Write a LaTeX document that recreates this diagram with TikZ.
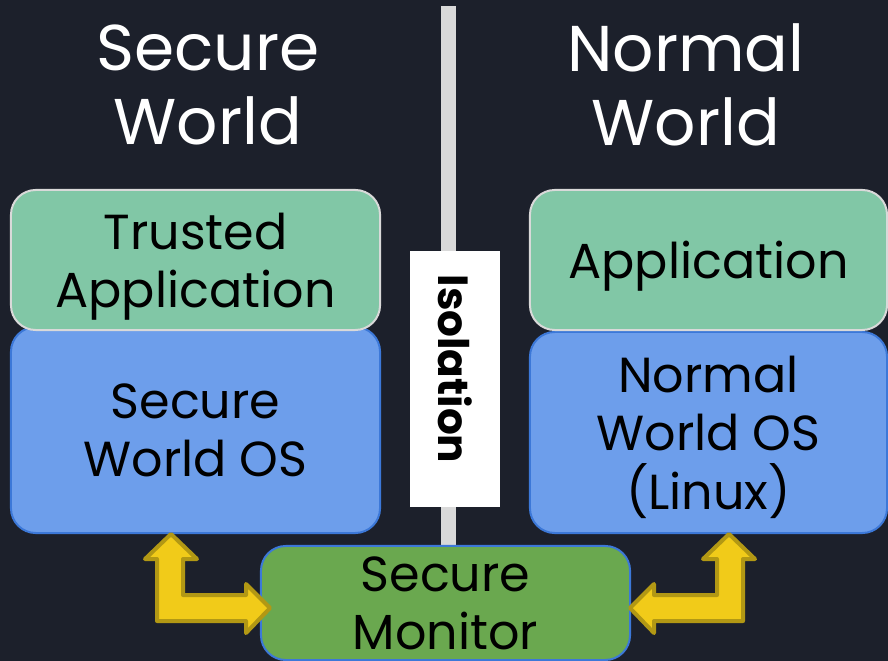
\documentclass[tikz,border=0pt]{standalone}
\usepackage{fontspec}
\setmainfont{Poppins}
\usetikzlibrary{calc}
\definecolor{bgdark}{RGB}{28,32,43}
\definecolor{bargray}{RGB}{217,217,217}
\definecolor{tagreen}{RGB}{129,199,166}
\definecolor{osblue}{RGB}{109,158,235}
\definecolor{edgeblue}{RGB}{60,120,216}
\definecolor{mongreen}{RGB}{106,168,79}
\definecolor{arrowyellow}{RGB}{241,203,25}
\definecolor{arrowgold}{RGB}{178,152,20}
\tikzstyle{title} = [%
					text = white,
					align = center,
					font = \fontsize{46}{52.5}\selectfont]
\tikzstyle{layer} = [%
					draw,
					line width = 0.05cm,
					rounded corners = 0.62cm,
					align = center,
					text = black,
					text depth = 0pt,
					inner sep = 0pt,
					font = \fontsize{35}{41.5}\selectfont]
\tikzstyle{bigarrow} = [%
					fill = arrowyellow,
					draw = arrowgold,
					line width = 0.1cm,
					line join = round]

\begin{document}
\begin{tikzpicture}[x=0.025cm,y=-0.025cm]
	
	% Background
	\fill[bgdark] (0,0) rectangle (888,661);
	\useasboundingbox (0,0) rectangle (888,661);
	
	% Separating bar
	\fill[bargray] (441,6) rectangle (456,546);
	
	% Titles
	\node[title] (sw) at (208,85) {Secure\\World};
	\node[title] (nw) at (686,85) {Normal\\World};
	
	% Secure side
	\node[layer, fill=osblue, draw=edgeblue, minimum width=9.225cm, minimum height=5.15cm] (sos) at (195.5,430) {Secure\\World OS};
	\node[layer, fill=tagreen, draw=bargray, minimum width=9.225cm, minimum height=3.5cm] (ta) at (195.5,260) {Trusted\\Application};
	
	% Normal side
	\node[layer, fill=osblue, draw=edgeblue, minimum width=8.925cm, minimum height=5.025cm] (nos) at (708.5,432.5) {Normal\\World OS\\(Linux)};
	\node[layer, fill=tagreen, draw=bargray, minimum width=8.925cm, minimum height=3.5cm] (app) at (708.5,260) {Application};
	
	% Isolation label (text sits a little above the middle)
	\node[fill=white, rotate=-90, minimum width=6.4cm, minimum height=2.25cm, font=\fontsize{30}{30}\selectfont\bfseries] (iso) at (455,379) {Isolation\kern0.5cm};
	
	% Monitor
	\node[layer, fill=mongreen, draw=edgeblue, minimum width=9.225cm, minimum height=2.85cm] (mon) at (445.5,603) {Secure\\Monitor};
	
	% Arrows
	\draw[bigarrow] ($(sos.south)+(-24.5,0)$) -- ++(26,25) -- ++(-14,0) -- ++(0,36) -- ++(63,0) -- ++(0,-11) -- ++(24,24) -- ++(-24,25) -- ++(0,-12) -- ++(-89,0) -- ++(0,-62) -- ++(-12,0) -- cycle;
	\draw[bigarrow] ($(nos.south)+(20.5,0)$) -- ++(-26,25) -- ++(14,0) -- ++(0,36) -- ++(-63,0) -- ++(0,-11) -- ++(-24,24) -- ++(24,25) -- ++(0,-12) -- ++(89,0) -- ++(0,-62) -- ++(12,0) -- cycle;
\end{tikzpicture}
\end{document}
